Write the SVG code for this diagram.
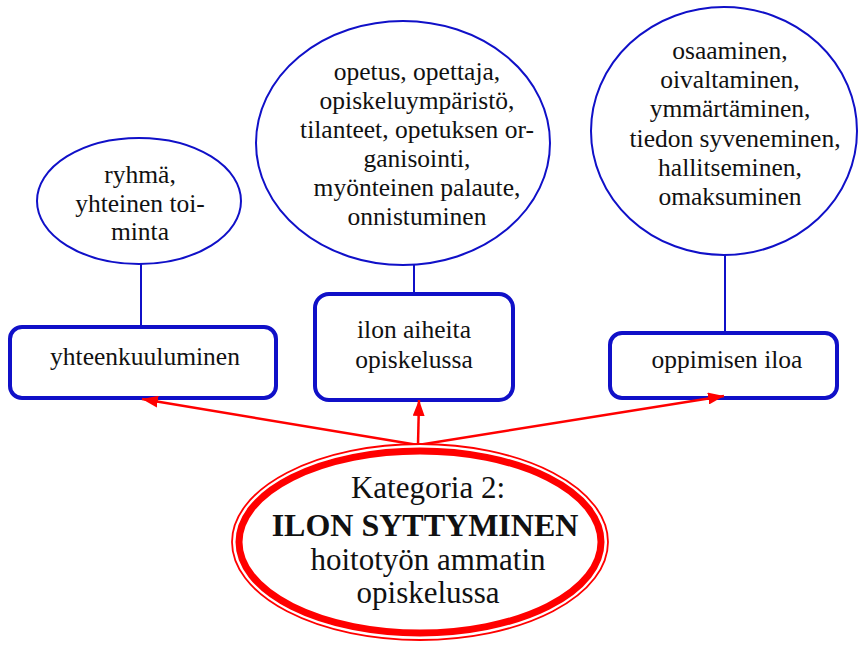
<svg xmlns="http://www.w3.org/2000/svg" width="858" height="645" viewBox="0 0 858 645">
  <style>
    .bub { fill: #fff; stroke: #1010C8; stroke-width: 2; }
    .box { fill: #fff; stroke: #1010C8; stroke-width: 4; }
    .stem { stroke: #1010C8; stroke-width: 2; fill: none; }
    .arr { stroke: #FF0000; stroke-width: 2.5; fill: none; marker-end: url(#tip); }
    text { font-family: 'Liberation Serif', 'DejaVu Serif', serif; fill: #111; text-anchor: middle; }
    .t { font-size: 25.5px; }
    .big { font-size: 31px; }
    .bold { font-weight: bold; font-size: 32px; }
  </style>
  <defs>
    <marker id="tip" viewBox="0 0 16 12" refX="16" refY="6" markerWidth="16" markerHeight="12" markerUnits="userSpaceOnUse" orient="auto">
      <path d="M0,0 L16,6 L0,12 Z" fill="#FF0000"/>
    </marker>
  </defs>

  <!-- stems between bubbles and boxes -->
  <g id="stems">
    <line class="stem" x1="141" y1="264" x2="141" y2="326"/>
    <line class="stem" x1="414" y1="265" x2="414" y2="293"/>
    <line class="stem" x1="725" y1="255" x2="725" y2="333"/>
  </g>

  <g id="bubble-ryhma">
    <ellipse class="bub" cx="139" cy="201" rx="102" ry="63"/>
    <text class="t" x="140" y="183">ryhmä,</text>
    <text class="t" x="140" y="212">yhteinen toi-</text>
    <text class="t" x="140" y="240">minta</text>
  </g>

  <g id="bubble-opetus">
    <ellipse class="bub" cx="403" cy="143" rx="147" ry="122"/>
    <text class="t" x="417" y="80">opetus, opettaja,</text>
    <text class="t" x="417" y="109">opiskeluympäristö,</text>
    <text class="t" x="417" y="138">tilanteet, opetuksen or-</text>
    <text class="t" x="417" y="167">ganisointi,</text>
    <text class="t" x="417" y="196">myönteinen palaute,</text>
    <text class="t" x="417" y="225">onnistuminen</text>
  </g>

  <g id="bubble-osaaminen">
    <ellipse class="bub" cx="724" cy="131" rx="133" ry="124"/>
    <text class="t" x="730" y="59">osaaminen,</text>
    <text class="t" x="730" y="88">oivaltaminen,</text>
    <text class="t" x="730" y="117">ymmärtäminen,</text>
    <text class="t" x="735" y="147">tiedon syveneminen,</text>
    <text class="t" x="730" y="176">hallitseminen,</text>
    <text class="t" x="730" y="205">omaksuminen</text>
  </g>

  <g id="box-yhteenkuuluminen">
    <rect class="box" x="10" y="327" width="266" height="71" rx="12"/>
    <text class="t" x="145" y="365">yhteenkuuluminen</text>
  </g>

  <g id="box-ilon-aiheita">
    <rect class="box" x="315" y="294" width="198" height="106" rx="14"/>
    <text class="t" x="414" y="338">ilon aiheita</text>
    <text class="t" x="414" y="368">opiskelussa</text>
  </g>

  <g id="box-oppimisen-iloa">
    <rect class="box" x="610" y="333" width="227" height="65" rx="12"/>
    <text class="t" x="727" y="368">oppimisen iloa</text>
  </g>

  <!-- red arrows from the category ellipse -->
  <g id="connectors">
    <line class="arr" x1="418" y1="445" x2="142" y2="399"/>
    <line class="arr" x1="418" y1="445" x2="419" y2="400"/>
    <line class="arr" x1="418" y1="445" x2="724" y2="396"/>
  </g>

  <g id="category">
    <ellipse cx="420" cy="542" rx="188" ry="98" fill="#fff" stroke="#FF0000" stroke-width="1.8"/>
    <ellipse cx="420" cy="542" rx="181" ry="91" fill="none" stroke="#FF0000" stroke-width="7"/>
    <text class="big" x="428" y="498">Kategoria 2:</text>
    <text class="big bold" x="425" y="536">ILON SYTTYMINEN</text>
    <text class="big" x="428" y="570">hoitotyön ammatin</text>
    <text class="big" x="428" y="603">opiskelussa</text>
  </g>
</svg>
